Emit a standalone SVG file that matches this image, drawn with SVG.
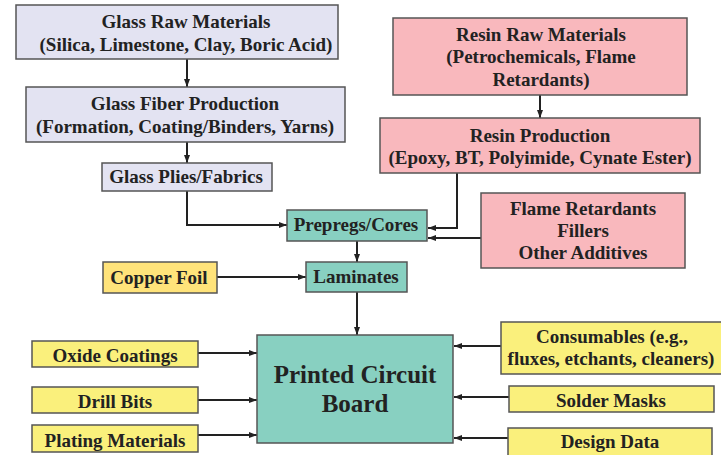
<svg xmlns="http://www.w3.org/2000/svg" width="721" height="455" viewBox="0 0 721 455">
<style>
.b{stroke:#555;stroke-width:1.5}
.g{fill:#E3E3F2}
.p{fill:#F9B8BD}
.t{fill:#88D0C1}
.y{fill:#FAF07C}
.o{fill:#FFE37A}
text{font-family:"Liberation Serif","Times New Roman",serif;font-weight:bold;fill:#222;text-anchor:middle;font-size:19px}
.big{font-size:25px}
.c path{fill:none;stroke:#222;stroke-width:2}
</style>
<defs>
<marker id="a" viewBox="0 0 8 6" refX="8" refY="3" markerWidth="8" markerHeight="6" markerUnits="userSpaceOnUse" orient="auto">
<path d="M0,0 L8,3 L0,6 Z" fill="#222"/>
</marker>
</defs>
<rect width="721" height="455" fill="#fff"/>
<g class="c">
<path d="M187,59 V87" marker-end="url(#a)"/>
<path d="M187,142 V163" marker-end="url(#a)"/>
<path d="M187,191 V225 H287" marker-end="url(#a)"/>
<path d="M540,95 V118" marker-end="url(#a)"/>
<path d="M457,173 V228 H428" marker-end="url(#a)"/>
<path d="M481,238 H428" marker-end="url(#a)"/>
<path d="M357,241 V262" marker-end="url(#a)"/>
<path d="M217,277 H306" marker-end="url(#a)"/>
<path d="M357,292 V335" marker-end="url(#a)"/>
<path d="M198,353 H257" marker-end="url(#a)"/>
<path d="M198,400 H257" marker-end="url(#a)"/>
<path d="M198,435 H257" marker-end="url(#a)"/>
<path d="M501,346 H454" marker-end="url(#a)"/>
<path d="M509,397 H454" marker-end="url(#a)"/>
<path d="M508,438 H454" marker-end="url(#a)"/>
</g>
<g id="glassRaw"><rect class="b g" x="16" y="5" width="322" height="54"/><text x="186" y="28">Glass Raw Materials</text><text x="186" y="51">(Silica, Limestone, Clay, Boric Acid)</text></g>
<g id="glassFiber"><rect class="b g" x="26" y="87" width="319" height="55"/><text x="185" y="110">Glass Fiber Production</text><text x="185" y="133">(Formation, Coating/Binders, Yarns)</text></g>
<g id="glassPlies"><rect class="b g" x="102" y="163" width="170" height="28"/><text x="186" y="183">Glass Plies/Fabrics</text></g>
<g id="resinRaw"><rect class="b p" x="393" y="18" width="294" height="77"/><text x="541" y="41">Resin Raw Materials</text><text x="541" y="63">(Petrochemicals, Flame</text><text x="541" y="86">Retardants)</text></g>
<g id="resinProd"><rect class="b p" x="380" y="118" width="320" height="55"/><text x="540" y="142">Resin Production</text><text x="540" y="164">(Epoxy, BT, Polyimide, Cynate Ester)</text></g>
<g id="flame"><rect class="b p" x="481" y="193" width="204" height="75"/><text x="583" y="215">Flame Retardants</text><text x="583" y="237">Fillers</text><text x="583" y="259">Other Additives</text></g>
<g id="prepregs"><rect class="b t" x="287" y="210" width="140" height="31"/><text x="356" y="231">Prepregs/Cores</text></g>
<g id="laminates"><rect class="b t" x="306" y="262" width="101" height="30"/><text x="356" y="283">Laminates</text></g>
<g id="copper"><rect class="b o" x="103" y="262" width="114" height="31"/><text x="159" y="284">Copper Foil</text></g>
<g id="pcb"><rect class="b t" x="257" y="335" width="196" height="108"/><text class="big" x="355" y="383">Printed Circuit</text><text class="big" x="355" y="412">Board</text></g>
<g id="oxide"><rect class="b y" x="32" y="341" width="166" height="26"/><text x="115" y="362">Oxide Coatings</text></g>
<g id="drill"><rect class="b y" x="32" y="387" width="166" height="26"/><text x="115" y="408">Drill Bits</text></g>
<g id="plating"><rect class="b y" x="32" y="425" width="166" height="27"/><text x="115" y="447">Plating Materials</text></g>
<g id="consumables"><rect class="b y" x="501" y="322" width="222" height="52"/><text x="612" y="343">Consumables (e.g.,</text><text x="611" y="365">fluxes, etchants, cleaners)</text></g>
<g id="solder"><rect class="b y" x="509" y="386" width="205" height="26"/><text x="611" y="407">Solder Masks</text></g>
<g id="design"><rect class="b y" x="508" y="428" width="204" height="30"/><text x="610" y="448">Design Data</text></g>
</svg>
